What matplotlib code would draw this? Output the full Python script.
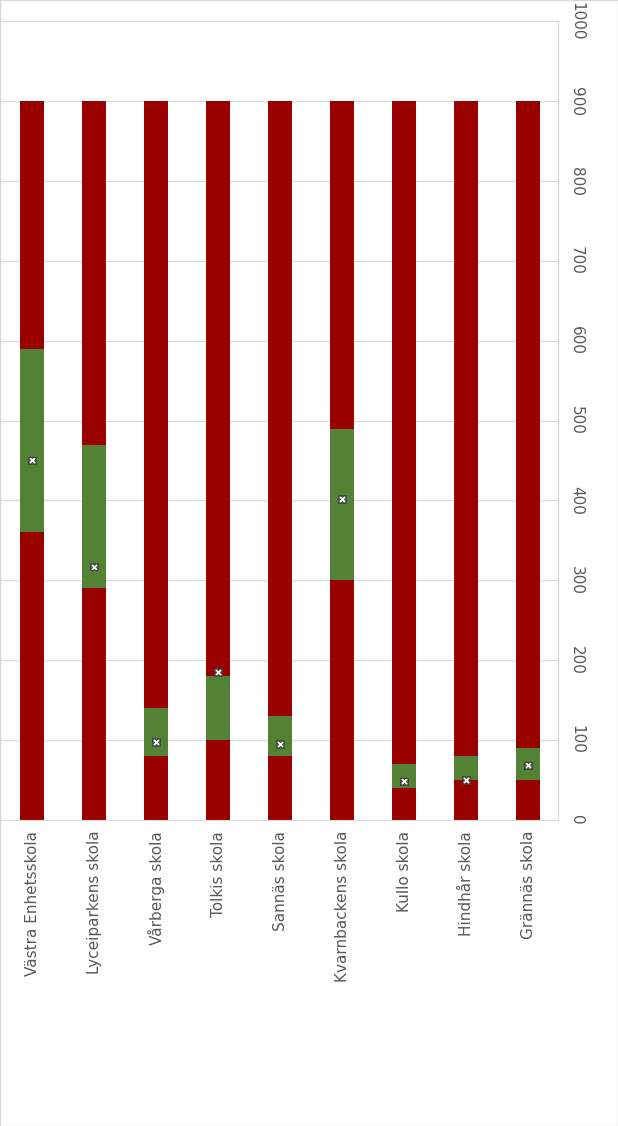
import matplotlib
matplotlib.use("Agg")
import matplotlib.pyplot as plt
import numpy as np

schools = ["Västra Enhetsskola", "Lyceiparkens skola", "Vårberga skola", "Tolkis skola",
           "Sannäs skola", "Kvarnbackens skola", "Kullo skola", "Hindhår skola", "Grännäs skola"]
low = [360, 290, 80, 100, 80, 300, 40, 50, 50]
high = [590, 470, 140, 180, 130, 490, 70, 80, 90]
marker = [450, 317, 97, 185, 95, 402, 48, 50, 68]
total = 900
yticks = [0, 100, 200, 300, 400, 500, 600, 700, 800, 900, 1000]

red = "#990000"
green = "#548235"

fig = plt.figure(figsize=(6.18, 11.26), dpi=100)
ax = fig.add_axes([0.0, 0.272, 0.903, 0.709])
x = np.arange(len(schools))
w = 0.39
lowa, higha = np.array(low), np.array(high)
ax.bar(x, lowa, w, color=red, zorder=2)
ax.bar(x, higha - lowa, w, bottom=lowa, color=green, zorder=2)
ax.bar(x, total - higha, w, bottom=higha, color=red, zorder=2)
ax.scatter(x, marker, marker="X", s=30, facecolor="white", edgecolor="#404040", linewidth=0.6, zorder=3)
ax.scatter(x, marker, marker="s", s=30, facecolor="none", edgecolor="#404040", linewidth=0.6, zorder=3)

ax.set_xlim(-0.516, 8.48)
ax.set_ylim(0, 1000)
ax.set_yticks(yticks)
ax.yaxis.tick_right()
ax.set_yticklabels([str(v) for v in yticks], rotation=-90, va="center", fontsize=11, color="#595959")
ax.set_xticks(x)
ax.set_xticklabels(schools, rotation=90, fontsize=11, color="#595959")
ax.tick_params(length=0, pad=8)
ax.grid(axis="y", color="#d9d9d9", linewidth=0.8, zorder=0)
for s in ["top", "left", "bottom"]:
    ax.spines[s].set_visible(False)
ax.spines["right"].set_color("#d9d9d9")
ax.spines["bottom"].set_visible(True)
ax.spines["bottom"].set_color("#d9d9d9")
fig.patches.append(plt.Rectangle((0, 0), 1, 1, transform=fig.transFigure, fill=False, edgecolor="#d9d9d9", linewidth=1))
fig.savefig("out.png", dpi=100)
